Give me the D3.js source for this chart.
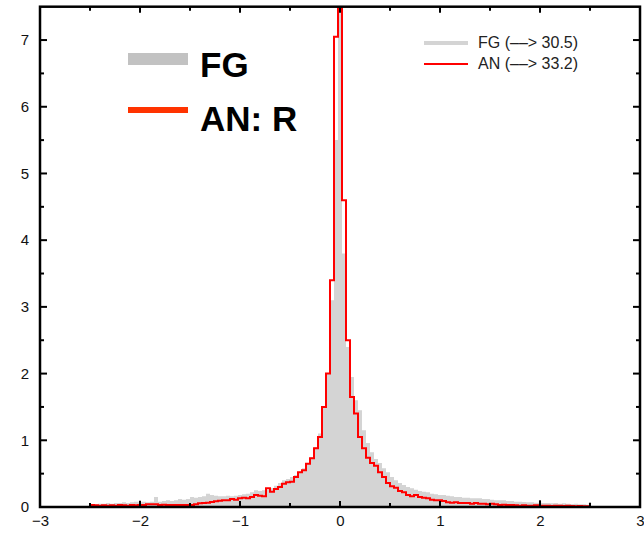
<!DOCTYPE html>
<html><head><meta charset="utf-8">
<script src="https://cdn.jsdelivr.net/npm/d3@7"></script>
<style>body{margin:0;background:#fff}svg{display:block}text{font-family:"Liberation Sans",Arial,Helvetica,sans-serif}</style>
</head><body><svg id="c" width="644" height="533"></svg>
<script>
// bin edges: -2.5 .. 2.5, width 0.04 (125 bins, centres -2.48 .. 2.48)
const binStart = -2.5, binWidth = 0.04;
// FG (gray histogram), bins k=-62..62
const fgLeft = [0.04,0.04,0.05,0.05,0.06,0.05,0.06,0.06,0.07,0.06,0.07, // k=-62..-52
  0.08,0.07,0.08,0.07,0.08,0.15,0.08,0.09,0.10,0.09,0.10,0.12,0.11,0.12,0.15,0.14,0.15,0.16, // -51..-34
  0.20,0.18,0.17,0.16,0.16,0.17,0.16,0.17,0.18,0.19,0.20,0.22,0.25,0.24,0.25,0.26,0.28,0.32, // -33..-16
  0.36,0.40,0.42,0.45,0.48,0.53,0.58,0.66,0.75,0.90,1.10,1.50,2.00,3.10,5.50]; // -15..-1
const fgCentre = [30.5];
const fgRight = [3.80,2.40,1.95,1.60,1.45,1.15,0.96,0.82,0.72,0.66,0.58,0.52,0.45,0.40,0.36,0.33,0.30, // 1..17
  0.28,0.26,0.24,0.23,0.22,0.20,0.19,0.18,0.18,0.17,0.16,0.15,0.15,0.14,0.14,0.13,0.13,0.13, // 18..35
  0.12,0.12,0.11,0.10,0.10,0.10,0.09,0.09,0.08,0.08,0.075,0.07,0.07,0.065,0.065,0.06, // 36..51
  0.06,0.055,0.06,0.05,0.055,0.05,0.045,0.05,0.04,0.04,0.035]; // 52..62
// AN (red step line)
const anLeft = [0.03,0.025,0.02,0.025,0.02,0.025,0.02,0.03,0.025,0.02,0.03, // -62..-52
  0.025,0.03,0.03,0.04,0.04,0.04,0.03,0.035,0.03,0.03,0.03,0.03,0.03,0.03,0.03,0.04,0.055,0.06, // -51..-34
  0.065,0.075,0.085,0.095,0.10,0.10,0.12,0.11,0.13,0.14,0.13,0.15,0.18,0.17,0.16,0.28,0.23,0.27, // -33..-16
  0.30,0.35,0.37,0.38,0.45,0.52,0.55,0.65,0.73,0.88,1.05,1.50,2.00,3.40,7.05]; // -15..-1
const anCentre = [33.2];
const anRight = [4.60,2.50,1.65,1.40,1.05,0.88,0.74,0.66,0.62,0.52,0.45,0.36,0.31,0.29,0.24,0.22,0.18, // 1..17
  0.16,0.18,0.15,0.14,0.13,0.11,0.10,0.10,0.09,0.07,0.065,0.07,0.06,0.06,0.06,0.05,0.06,0.05, // 18..35
  0.05,0.04,0.05,0.04,0.03,0.035,0.03,0.03,0.025,0.02,0.025,0.02,0.02,0.025,0.02,0.02, // 36..51
  0.02,0.015,0.02,0.02,0.015,0.02,0.015,0.01,0.015,0.01,0.01]; // 52..62
const fgValues = fgLeft.concat(fgCentre, fgRight);
const anValues = anLeft.concat(anCentre, anRight);
// small stray marks near the baseline
const dotX = [-2, 2, 2.5];
const dotY = [0.08, 0.09, 0.05];
const xTicks = [-3,-2,-1,0,1,2,3];
const yTicks = [0,1,2,3,4,5,6,7];
const legendBig = ["FG", "AN: R"];
const legendSmall = ["FG (\u2013\u2013> 30.5)", "AN (\u2013\u2013> 33.2)"];

const svg = d3.select("#c");
const L = 40, R = 640, T = 6.7, B = 507;
const x = d3.scaleLinear().domain([-3, 3]).range([L, R]);
const y = d3.scaleLinear().domain([0, 7.5]).range([B, T]);

svg.append("defs").append("clipPath").attr("id","clip")
  .append("rect").attr("x",L).attr("y",T).attr("width",R-L).attr("height",B-T);
const g = svg.append("g").attr("clip-path","url(#clip)");

function stepPts(vals){
  const pts = vals.map((v,i)=>[binStart + i*binWidth, v]);
  pts.push([binStart + vals.length*binWidth, vals[vals.length-1]]);
  return pts;
}
const area = d3.area().curve(d3.curveStepAfter).x(d=>x(d[0])).y0(y(0)).y1(d=>y(d[1]));
const line = d3.line().curve(d3.curveStepAfter).x(d=>x(d[0])).y(d=>y(d[1]));
g.append("path").attr("d", area(stepPts(fgValues))).attr("fill","#d4d4d4");
g.append("path").attr("d", line(stepPts(anValues))).attr("fill","none").attr("stroke","#ff0000").attr("stroke-width",2);
g.selectAll("circle.dot").data(dotX).join("circle").attr("class","dot")
  .attr("cx",d=>x(d)).attr("cy",(d,i)=>y(dotY[i])).attr("r",1.1).attr("fill","#222");

// axes
const axW = 2.5;
function mirror(sel){ sel.select(".domain").remove(); }
const minorX = d3.range(-2.5, 3, 1), minorY = d3.range(0.5, 7.5, 1);
svg.append("g").attr("transform",`translate(0,${B})`).call(d3.axisBottom(x).tickValues(xTicks).tickSize(0).tickPadding(8)
  .tickFormat(d=>d<0?"\u2212"+Math.abs(d):d)).call(mirror)
  .selectAll("text").attr("font-size",15).attr("fill","#111");
svg.append("g").attr("transform",`translate(${L},0)`).call(d3.axisLeft(y).tickValues(yTicks).tickSize(0).tickPadding(11)).call(mirror)
  .selectAll("text").attr("font-size",15).attr("fill","#111");
const tk = svg.append("g").attr("stroke","#000").attr("stroke-width",2);
xTicks.forEach(v=>{ tk.append("line").attr("x1",x(v)).attr("x2",x(v)).attr("y1",B).attr("y2",B-6);
  tk.append("line").attr("x1",x(v)).attr("x2",x(v)).attr("y1",T).attr("y2",T+6); });
minorX.forEach(v=>{ tk.append("line").attr("x1",x(v)).attr("x2",x(v)).attr("y1",B).attr("y2",B-4);
  tk.append("line").attr("x1",x(v)).attr("x2",x(v)).attr("y1",T).attr("y2",T+4); });
yTicks.forEach(v=>{ tk.append("line").attr("x1",L).attr("x2",L+7).attr("y1",y(v)).attr("y2",y(v));
  tk.append("line").attr("x1",R).attr("x2",R-7).attr("y1",y(v)).attr("y2",y(v)); });
minorY.forEach(v=>{ tk.append("line").attr("x1",L).attr("x2",L+4).attr("y1",y(v)).attr("y2",y(v));
  tk.append("line").attr("x1",R).attr("x2",R-4).attr("y1",y(v)).attr("y2",y(v)); });
svg.append("rect").attr("x",L).attr("y",T).attr("width",R-L).attr("height",B-T)
  .attr("fill","none").attr("stroke","#000").attr("stroke-width",axW);

// big legend
svg.append("rect").attr("x",128).attr("y",53).attr("width",60).attr("height",12).attr("fill","#c2c2c2");
svg.append("rect").attr("x",128).attr("y",107).attr("width",60).attr("height",6).attr("fill","#ff3300");
svg.append("text").attr("x",200).attr("y",77).attr("font-size",35).attr("font-weight","bold").text(legendBig[0]);
svg.append("text").attr("x",200).attr("y",131).attr("font-size",35).attr("font-weight","bold").text(legendBig[1]);
// small legend
svg.append("line").attr("x1",424).attr("x2",468).attr("y1",43).attr("y2",43).attr("stroke","#d4d4d4").attr("stroke-width",4);
svg.append("line").attr("x1",424).attr("x2",468).attr("y1",64).attr("y2",64).attr("stroke","#ff0000").attr("stroke-width",2);
svg.append("text").attr("x",478).attr("y",48).attr("font-size",16).attr("fill","#222").text(legendSmall[0]);
svg.append("text").attr("x",478).attr("y",69).attr("font-size",16).attr("fill","#222").text(legendSmall[1]);
</script></body></html>
